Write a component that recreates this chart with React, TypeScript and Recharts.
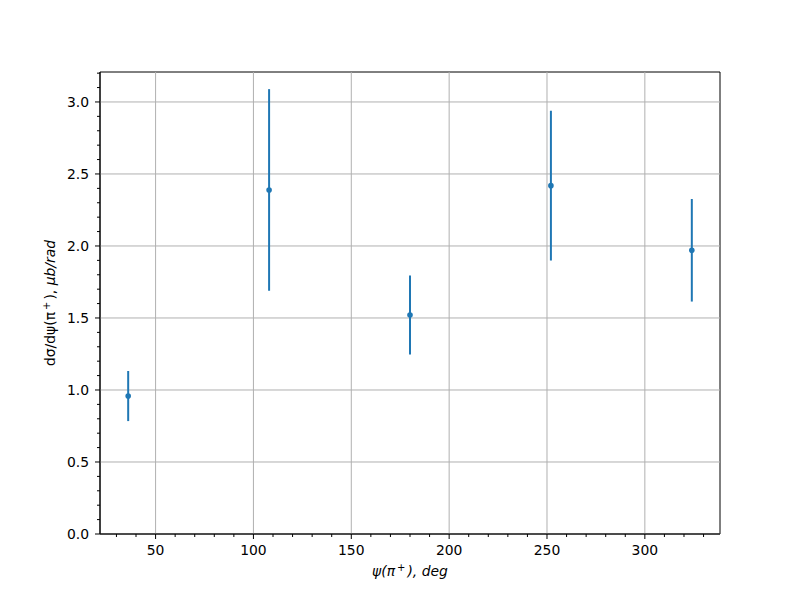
import React from "react";
import {
  ScatterChart,
  Scatter,
  XAxis,
  YAxis,
  ErrorBar,
  ReferenceArea,
  ReferenceLine,
} from "recharts";

const angles = [36, 108, 180, 252, 324];
const crossSection = [0.958, 2.389, 1.521, 2.419, 1.970];
const errors = [0.174, 0.70, 0.274, 0.52, 0.356];

const xMajorTicks = [50, 100, 150, 200, 250, 300];
const xMinorTicks = [30, 40, 60, 70, 80, 90, 110, 120, 130, 140, 160, 170, 180, 190, 210, 220, 230, 240, 260, 270, 280, 290, 310, 320, 330];
const yMajorTicks = [0, 0.5, 1.0, 1.5, 2.0, 2.5, 3.0];
const yMinorTicks = [0.1, 0.2, 0.3, 0.4, 0.6, 0.7, 0.8, 0.9, 1.1, 1.2, 1.3, 1.4, 1.6, 1.7, 1.8, 1.9, 2.1, 2.2, 2.3, 2.4, 2.6, 2.7, 2.8, 2.9, 3.1, 3.2];

const X_DOMAIN: [number, number] = [21.6, 338.4];
const Y_DOMAIN: [number, number] = [0, 3.208];

const BLUE = "#1f77b4";
const GRID = "#b0b0b0";
const FONT = "DejaVu Sans";
const FS = 13.9;

const data = angles.map((a, i) => ({ x: a, y: crossSection[i], err: errors[i] }));

const xAllTicks = [...xMajorTicks, ...xMinorTicks].sort((a, b) => a - b);
const yAllTicks = [...yMajorTicks, ...yMinorTicks].sort((a, b) => a - b);

const XTick = (props: any) => {
  const { x, y, payload } = props;
  const major = xMajorTicks.includes(payload.value);
  return (
    <g>
      <line x1={x} x2={x} y1={y} y2={y + (major ? 5 : 3)} stroke="#000" strokeWidth={1} />
      {major && (
        <text x={x} y={y + 11} dy="0.71em" textAnchor="middle" fontFamily={FONT} fontSize={FS} fill="#000">
          {payload.value}
        </text>
      )}
    </g>
  );
};

const YTick = (props: any) => {
  const { x, y, payload } = props;
  const major = yMajorTicks.includes(payload.value);
  return (
    <g>
      <line x1={x - (major ? 5 : 3)} x2={x} y1={y} y2={y} stroke="#000" strokeWidth={1} />
      {major && (
        <text x={x - 11} y={y} dy="0.355em" textAnchor="end" fontFamily={FONT} fontSize={FS} fill="#000">
          {payload.value.toFixed(1)}
        </text>
      )}
    </g>
  );
};

const XLabel = (props: any) => {
  const vb = props.viewBox;
  return (
    <text
      x={vb.x + vb.width / 2}
      y={vb.y + 42}
      textAnchor="middle"
      fontFamily={FONT}
      fontSize={FS}
      fill="#000"
      fontStyle="italic"
    >
      ψ(π<tspan dx={2} dy={-5} fontSize={10} fontStyle="normal">+</tspan>
      <tspan dx={2} dy={5}>), deg</tspan>
    </text>
  );
};

const YLabel = (props: any) => {
  const vb = props.viewBox;
  const cx = vb.x + vb.width - 45;
  const cy = vb.y + vb.height / 2;
  return (
    <text
      x={cx}
      y={cy}
      textAnchor="middle"
      fontFamily={FONT}
      fontSize={FS}
      fill="#000"
      transform={`rotate(-90, ${cx}, ${cy})`}
    >
      dσ/dψ(π
      <tspan dx={2} dy={-5} fontSize={10}>+</tspan>
      <tspan dx={2} dy={5}>), </tspan>
      <tspan fontStyle="italic">μb/rad</tspan>
    </text>
  );
};

export default function App() {
  return (
    <div style={{ position: "absolute", left: 0, top: 0, width: 800, height: 600, background: "#fff" }}>
      <ScatterChart
        width={800}
        height={600}
        margin={{ top: 72, right: 80, bottom: 0, left: 0 }}
      >
        <XAxis
          type="number"
          dataKey="x"
          domain={X_DOMAIN}
          ticks={xAllTicks}
          interval={0}
          allowDataOverflow
          height={66}
          tick={<XTick />}
          tickLine={false}
          tickSize={0}
          tickMargin={0}
          stroke="#000"
          label={<XLabel />}
        />
        <YAxis
          type="number"
          dataKey="y"
          domain={Y_DOMAIN}
          ticks={yAllTicks}
          interval={0}
          allowDataOverflow
          width={100}
          tick={<YTick />}
          tickLine={false}
          tickSize={0}
          tickMargin={0}
          stroke="#000"
          label={<YLabel />}
        />
        {xMajorTicks.map((v) => (
          <ReferenceLine key={`gx-${v}`} x={v} stroke={GRID} strokeWidth={1} />
        ))}
        {yMajorTicks.map((v) => (
          <ReferenceLine key={`gy-${v}`} y={v} stroke={GRID} strokeWidth={1} />
        ))}
        <ReferenceArea
          x1={X_DOMAIN[0]}
          x2={X_DOMAIN[1]}
          y1={Y_DOMAIN[0]}
          y2={Y_DOMAIN[1]}
          fill="none"
          fillOpacity={0}
          stroke="#000"
          strokeWidth={1}
        />
        <Scatter
          data={data}
          fill={BLUE}
          isAnimationActive={false}
          shape={(p: any) => <circle cx={p.cx} cy={p.cy} r={2.8} fill={BLUE} />}
        >
          <ErrorBar dataKey="err" direction="y" width={0} stroke={BLUE} strokeWidth={2} />
        </Scatter>
      </ScatterChart>
    </div>
  );
}
